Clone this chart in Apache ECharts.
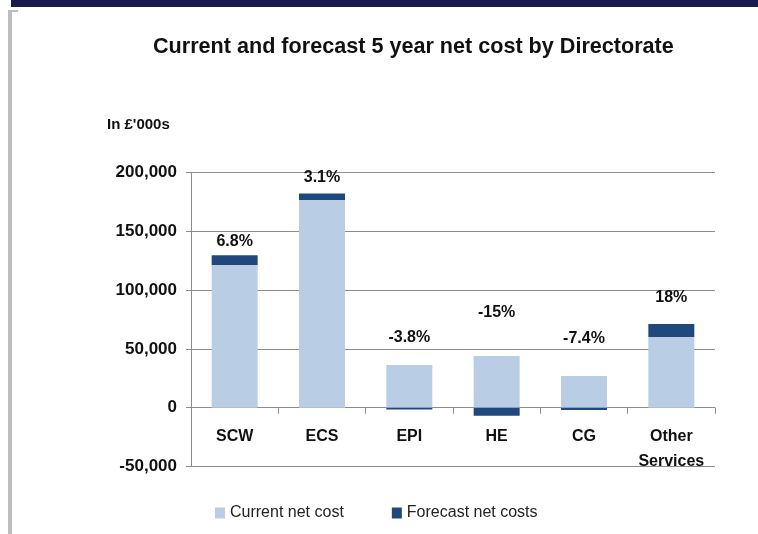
<!DOCTYPE html>
<html>
<head>
<meta charset="utf-8">
<script src="https://cdn.jsdelivr.net/npm/echarts@6/dist/echarts.min.js"></script>
<style>
html,body{margin:0;padding:0;background:#fff;}
#chart{width:758px;height:534px;}
</style>
</head>
<body>
<div id="chart"></div>
<script>
// ---- data ----
const categories = ['SCW', 'ECS', 'EPI', 'HE', 'CG', 'Other\nServices'];
const currentNetCost = [121500, 176800, 36300, 44000, 27000, 60200];
const forecastNetCosts = [8300, 5500, -1400, -6800, -2000, 11000];
const changeLabels = ['6.8%', '3.1%', '-3.8%', '-15%', '-7.4%', '18%'];
const yTicks = [-50000, 0, 50000, 100000, 150000, 200000];

// ---- layout (label lift above the current bar, px) ----
const labelLift = [-15, -14, -19, -35, -29, -31];

const chart = echarts.init(document.getElementById('chart'), null, {renderer: 'canvas'});
const boldFont = 'Liberation Sans';

const option = {
  animation: false,
  backgroundColor: '#ffffff',
  title: {
    text: 'Current and forecast 5 year net cost by Directorate',
    left: 148,
    top: 31,
    textStyle: {fontFamily: boldFont, fontWeight: 'bold', fontSize: 21.6, color: '#111'}
  },
  graphic: [
    {type: 'rect', shape: {x: 11, y: 0, width: 747, height: 7}, style: {fill: '#1b1a4f'}},
    {type: 'rect', shape: {x: 8, y: 10, width: 4, height: 524}, style: {fill: '#bdbdbd'}},
    {type: 'rect', shape: {x: 8, y: 10, width: 10, height: 2}, style: {fill: '#bdbdbd'}},
    {type: 'text', left: 107, top: 117, style: {text: "In £'000s", fontFamily: boldFont, fontWeight: 'bold', fontSize: 15, fill: '#111'}}
  ],
  legend: {
    left: 210,
    top: 500,
    itemWidth: 10,
    itemHeight: 11,
    itemGap: 48,
    icon: 'rect',
    textStyle: {fontFamily: 'Liberation Sans', fontSize: 16, color: '#222'},
    data: ['Current net cost', 'Forecast net costs']
  },
  grid: {left: 191, right: 43, top: 172.7, bottom: 67.5, containLabel: false},
  xAxis: {
    type: 'category',
    data: categories,
    axisLine: {onZero: true, lineStyle: {color: '#8c8c8c', width: 1}},
    axisTick: {show: true, length: 6, lineStyle: {color: '#8c8c8c'}},
    axisLabel: {
      margin: -42,
      fontFamily: boldFont, fontWeight: 'bold', fontSize: 16, color: '#111',
      lineHeight: 25
    }
  },
  yAxis: {
    type: 'value',
    min: yTicks[0],
    max: yTicks[yTicks.length - 1],
    interval: 50000,
    axisLine: {show: true, lineStyle: {color: '#8c8c8c'}},
    axisTick: {show: true, length: 5, lineStyle: {color: '#8c8c8c'}},
    splitLine: {show: true, lineStyle: {color: '#8c8c8c', width: 1}},
    axisLabel: {
      margin: 14,
      fontFamily: boldFont, fontWeight: 'bold', fontSize: 17, color: '#111',
      formatter: v => v.toLocaleString('en-GB')
    }
  },
  series: [
    {
      name: 'Current net cost',
      type: 'bar',
      stack: 'cost',
      barWidth: 46,
      itemStyle: {color: '#b9cde5'},
      data: currentNetCost.map((v, i) => ({
        value: v,
        label: {
          show: true,
          position: 'top',
          distance: 0,
          offset: [0, labelLift[i]],
          formatter: changeLabels[i],
          fontFamily: boldFont, fontWeight: 'bold', fontSize: 16, color: '#111'
        }
      }))
    },
    {
      name: 'Forecast net costs',
      type: 'bar',
      stack: 'cost',
      barWidth: 46,
      itemStyle: {color: '#1f497d'},
      data: forecastNetCosts
    }
  ]
};
chart.setOption(option);
</script>
</body>
</html>
